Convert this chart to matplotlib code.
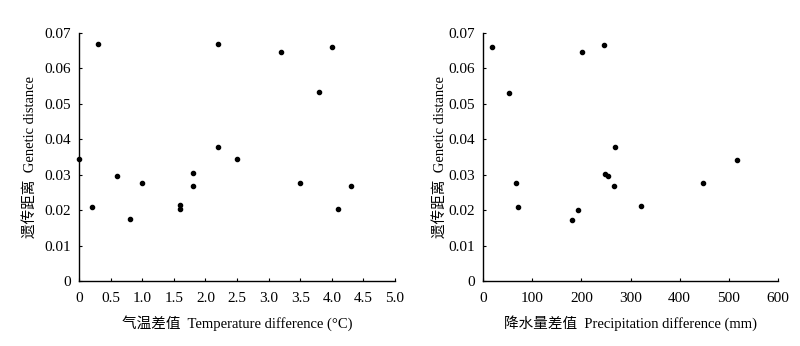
import matplotlib
matplotlib.use("Agg")
import matplotlib.pyplot as plt

plt.rcParams['font.family'] = ['Liberation Serif', 'Noto Sans CJK SC']
plt.rcParams['axes.unicode_minus'] = False

# temperature difference vs genetic distance
temp_diff = [0, 0.3, 2.2, 3.2, 4.0, 3.8, 2.2, 2.5, 0.6, 1.8,
             0.2, 0.8, 1.0, 1.6, 1.6, 1.8, 3.5, 4.1, 4.3]
temp_gd = [0.0345, 0.0669, 0.0669, 0.0647, 0.0661, 0.0533, 0.0379, 0.0344, 0.0296, 0.0304,
           0.0210, 0.0175, 0.0277, 0.0214, 0.0202, 0.0269, 0.0277, 0.0202, 0.0269]

# precipitation difference vs genetic distance
prec_diff = [19, 52, 201, 247, 268, 516, 249, 254,
             68, 72, 181, 194, 266, 321, 448]
prec_gd = [0.0659, 0.0530, 0.0645, 0.0667, 0.0377, 0.0342, 0.0303, 0.0296,
           0.0276, 0.0209, 0.0173, 0.0200, 0.0267, 0.0211, 0.0276]

temp_ticks = [0, 0.5, 1.0, 1.5, 2.0, 2.5, 3.0, 3.5, 4.0, 4.5, 5.0]
temp_ticklabels = ['0', '0.5', '1.0', '1.5', '2.0', '2.5', '3.0', '3.5', '4.0', '4.5', '5.0']
prec_ticks = [0, 100, 200, 300, 400, 500, 600]
y_ticks = [0, 0.01, 0.02, 0.03, 0.04, 0.05, 0.06, 0.07]
y_ticklabels = ['0', '0.01', '0.02', '0.03', '0.04', '0.05', '0.06', '0.07']

fig = plt.figure(figsize=(8, 3.46), dpi=100)
ax1 = fig.add_axes([0.09875, 0.188, 0.395, 0.717])
ax2 = fig.add_axes([0.60375, 0.188, 0.36875, 0.717])


def style(ax, ypad):
    for s in ['top', 'right']:
        ax.spines[s].set_visible(False)
    for s in ['left', 'bottom']:
        ax.spines[s].set_linewidth(1.0)
    ax.tick_params(direction='in', length=2.5, width=0.8, labelsize=11)
    ax.tick_params(axis='x', pad=8)
    ax.tick_params(axis='y', pad=6)
    ax.set_ylim(0, 0.07)
    ax.set_yticks(y_ticks)
    ax.set_yticklabels(y_ticklabels)
    ax.set_ylabel('遗传距离  Genetic distance', fontsize=10.5, labelpad=ypad)


ax1.scatter(temp_diff, temp_gd, s=9, color='black', clip_on=False, zorder=3)
ax1.set_xlim(0, 5.0)
ax1.set_xticks(temp_ticks)
ax1.set_xticklabels(temp_ticklabels)
style(ax1, 5)
ax1.set_xlabel('气温差值  Temperature difference (°C)', fontsize=10.5, labelpad=7)

ax2.scatter(prec_diff, prec_gd, s=9, color='black', clip_on=False, zorder=3)
ax2.set_xlim(0, 600)
ax2.set_xticks(prec_ticks)
style(ax2, 1)
ax2.set_xlabel('降水量差值  Precipitation difference (mm)', fontsize=10.5, labelpad=7)

fig.savefig('out.png', dpi=100)
